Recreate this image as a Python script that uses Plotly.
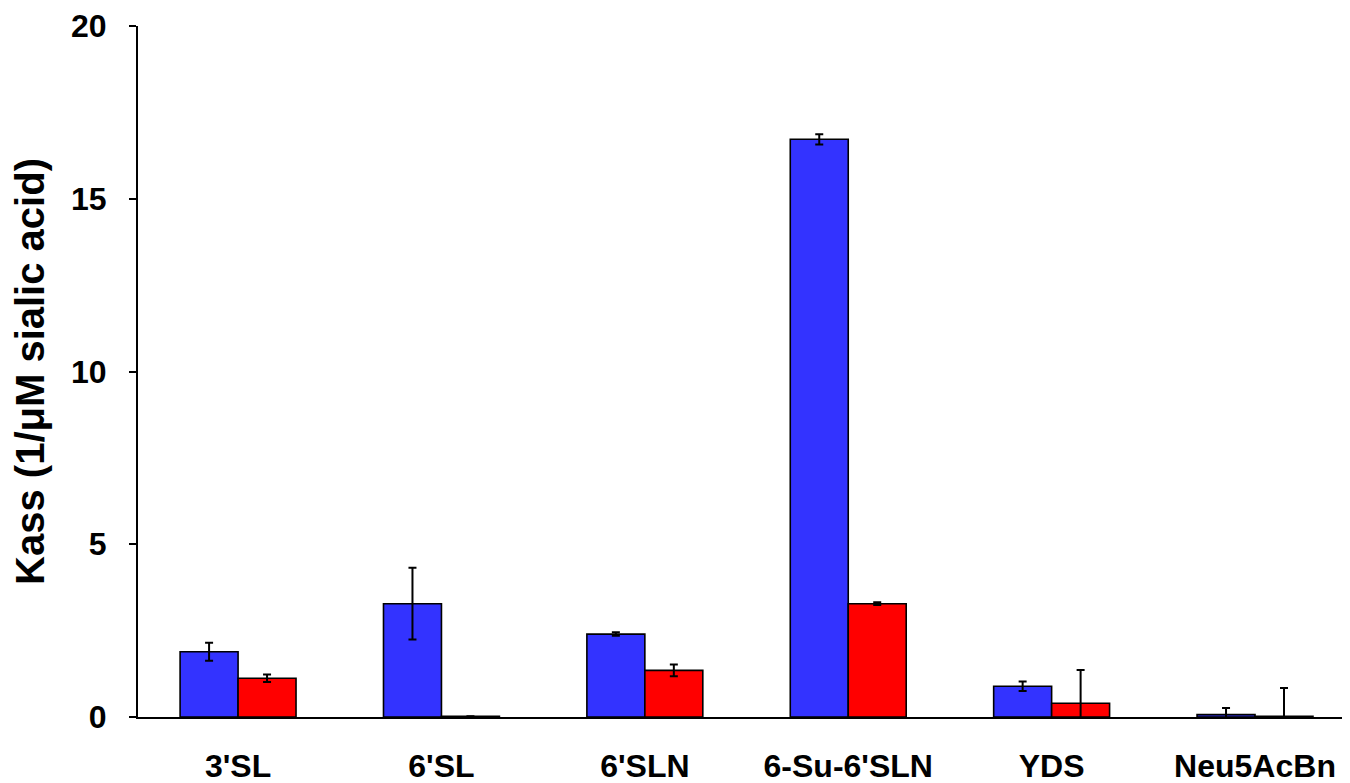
import plotly.graph_objects as go

categories = ["3'SL", "6'SL", "6'SLN", "6-Su-6'SLN", "YDS", "Neu5AcBn"]
blue_vals = [1.89, 3.28, 2.40, 16.72, 0.89, 0.07]
blue_err = [0.26, 1.04, 0.05, 0.15, 0.14, 0.19]
red_vals = [1.12, 0.02, 1.35, 3.28, 0.40, 0.02]
red_err = [0.11, 0.0, 0.17, 0.04, 0.96, 0.82]
y_ticks = [0, 5, 10, 15, 20]

FONT = "Liberation Sans, Arial, sans-serif"

fig = go.Figure()
fig.add_trace(go.Bar(
    x=categories, y=blue_vals,
    marker=dict(color="#3333FF", line=dict(color="black", width=1.6)),
    error_y=dict(type="data", array=blue_err, visible=True, color="black", thickness=2, width=4),
    showlegend=False,
))
fig.add_trace(go.Bar(
    x=categories, y=red_vals,
    marker=dict(color="#FF0000", line=dict(color="black", width=1.6)),
    error_y=dict(type="data", array=red_err, visible=True, color="black", thickness=2, width=4),
    showlegend=False,
))

fig.update_layout(
    width=1350, height=783,
    margin=dict(l=130, r=8, t=18, b=74),
    paper_bgcolor="white", plot_bgcolor="white",
    barmode="group", bargap=0.43, bargroupgap=0,
    font=dict(family=FONT, color="black"),
    xaxis=dict(
        range=[-0.492, 5.467], automargin=False,
        showline=True, linecolor="black", linewidth=2,
        ticks="", showgrid=False, zeroline=False,
        tickfont=dict(size=32, family=FONT, weight="bold"),
        ticklabelstandoff=20,
    ),
    yaxis=dict(
        range=[0, 20], tickvals=y_ticks, automargin=False,
        showline=True, linecolor="black", linewidth=2,
        ticks="outside", ticklen=7, tickwidth=2, tickcolor="black",
        showgrid=False, zeroline=False,
        tickfont=dict(size=32, family=FONT, weight="bold"),
        ticklabelstandoff=16,
        title=dict(text="Kass (1/μM sialic acid)", font=dict(size=40, family=FONT, weight="bold"), standoff=30),
    ),
)

fig.write_html("out.html")
